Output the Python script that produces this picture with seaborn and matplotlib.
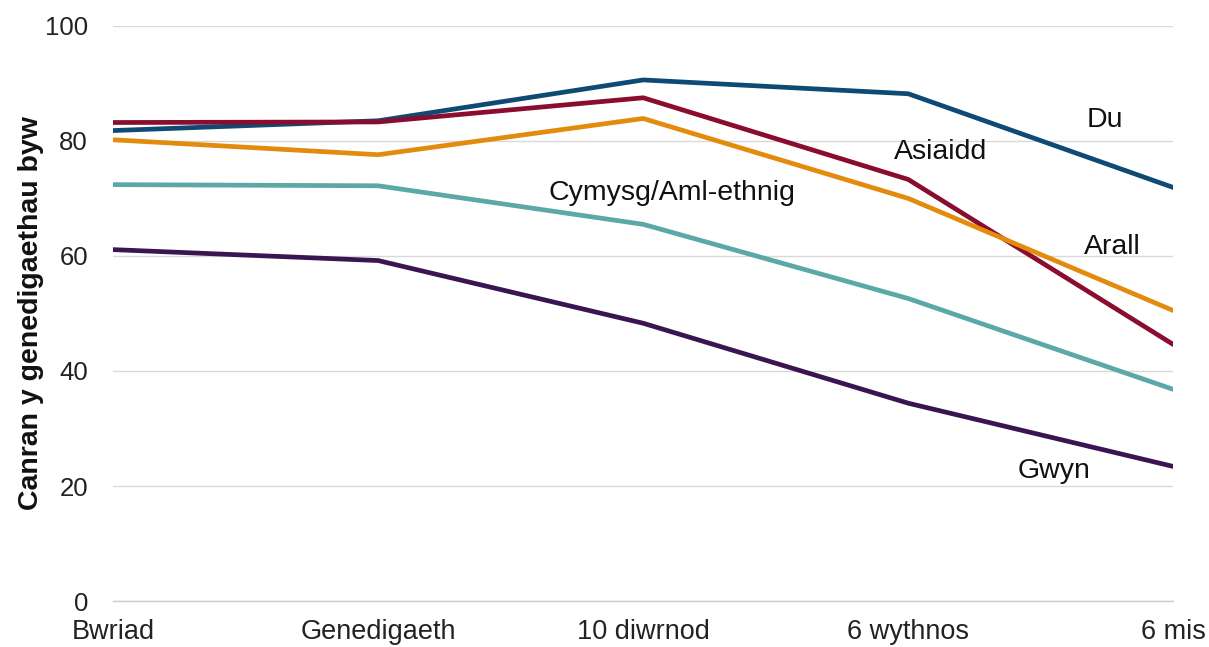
import pandas as pd
import matplotlib.pyplot as plt
import seaborn as sns

# data
stages = ["Bwriad", "Genedigaeth", "10 diwrnod", "6 wythnos", "6 mis"]
du = [81.8, 83.5, 90.6, 88.2, 71.9]
asiaidd = [83.2, 83.3, 87.5, 73.3, 44.6]
arall = [80.2, 77.6, 83.9, 70.0, 50.5]
cymysg = [72.4, 72.2, 65.5, 52.6, 36.8]
gwyn = [61.1, 59.2, 48.3, 34.4, 23.4]

groups = ["Du", "Asiaidd", "Arall", "Cymysg/Aml-ethnig", "Gwyn"]
colours = ["#0F4A74", "#8A0C2E", "#E38B0C", "#5BA8A6", "#3B1551"]

sns.set_theme(style="whitegrid")
plt.rcParams['font.family'] = ['Liberation Sans', 'DejaVu Sans']

rows = []
for name, vals in zip(groups, [du, asiaidd, arall, cymysg, gwyn]):
    for i, (s, v) in enumerate(zip(stages, vals)):
        rows.append({"idx": i, "Stage": s, "Value": v, "Group": name})
df = pd.DataFrame(rows)

fig = plt.figure(figsize=(12.09, 6.47), dpi=100)
ax = fig.add_axes([0.0935, 0.071, 0.877, 0.889])

sns.lineplot(data=df, x="idx", y="Value", hue="Group", hue_order=groups,
             palette=colours, linewidth=3.4, legend=False, ax=ax)

ax.set_xlim(0, len(stages) - 1)
ax.set_ylim(0, 100)
ax.set_xticks(range(len(stages)))
ax.set_xticklabels(stages)
ax.set_yticks([0, 20, 40, 60, 80, 100])
ax.tick_params(axis='y', labelsize=18.5, colors='#222222', length=0, pad=18)
ax.tick_params(axis='x', labelsize=19.5, colors='#222222', length=7, width=1, pad=6)
ax.tick_params(axis='x', color='#cccccc')
ax.grid(axis='x', visible=False)
ax.grid(axis='y', color='#d9d9d9', linewidth=1)
ax.set_xlabel("")
ax.set_ylabel("Canran y genedigaethau byw", fontsize=20.5, fontweight='bold',
              color='#111111', labelpad=1)
for side in ['top', 'right', 'left']:
    ax.spines[side].set_visible(False)
ax.spines['bottom'].set_color('#cccccc')
ax.spines['bottom'].set_linewidth(1)

# direct labels
labels = [("Du", 3.74, 83.7), ("Asiaidd", 3.12, 78.1),
          ("Cymysg/Aml-ethnig", 2.11, 71.0), ("Arall", 3.77, 61.6),
          ("Gwyn", 3.55, 22.6)]
for txt, x, y in labels:
    ax.text(x, y, txt, fontsize=20.5, color='#111111', ha='center', va='center')

fig.savefig("out.png", dpi=100)
